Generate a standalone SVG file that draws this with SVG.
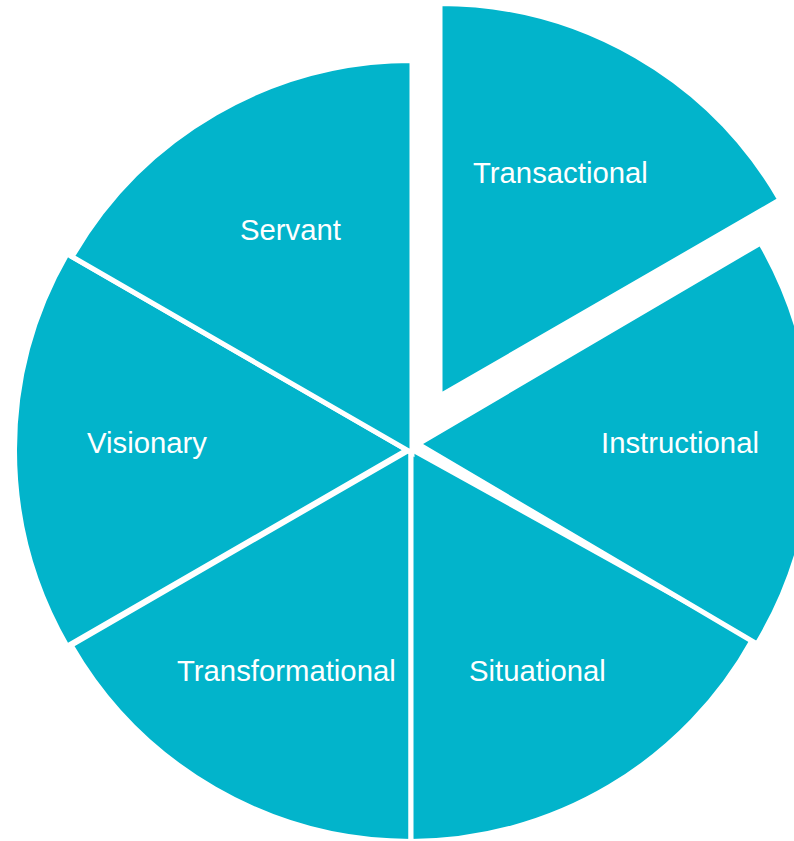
<svg xmlns="http://www.w3.org/2000/svg" width="794" height="841" viewBox="0 0 794 841">
  <style>
    .slice { fill: #02B4CB; stroke: #FFFFFF; stroke-width: 5; stroke-linejoin: miter; }
    .label { font-family: "Liberation Sans", Arial, sans-serif; font-size: 29.3px; fill: #FFFFFF; }
  </style>
  <rect x="0" y="0" width="794" height="841" fill="#FFFFFF"/>
  <g id="visionary">
    <path class="slice" d="M407,450 L67.08,253.75 A392.5,392.5 0 0 0 67.08,646.25 Z"/>
    <text class="label" x="87" y="453">Visionary</text>
  </g>
  <g id="transformational">
    <path class="slice" d="M411,449 L71.08,645.25 A392.5,392.5 0 0 0 411,841.5 Z"/>
    <text class="label" x="177" y="681">Transformational</text>
  </g>
  <g id="situational">
    <path class="slice" d="M411,449 L411,841.5 A392.5,392.5 0 0 0 753,639 Z"/>
    <text class="label" x="469" y="681">Situational</text>
  </g>
  <g id="instructional">
    <path class="slice" d="M418,444 L757,644 A394,394 0 0 0 760.5,243 Z"/>
    <text class="label" x="601" y="453">Instructional</text>
  </g>
  <g id="servant">
    <path class="slice" d="M412,453 L412,60.5 A392.5,392.5 0 0 0 72.08,256.75 Z"/>
    <text class="label" x="240" y="240">Servant</text>
  </g>
  <g id="transactional">
    <path class="slice" d="M440,396 L779.92,199.75 A392.5,392.5 0 0 0 440,3.5 Z"/>
    <text class="label" x="473" y="183">Transactional</text>
  </g>
  <g id="connectors"></g>
</svg>
